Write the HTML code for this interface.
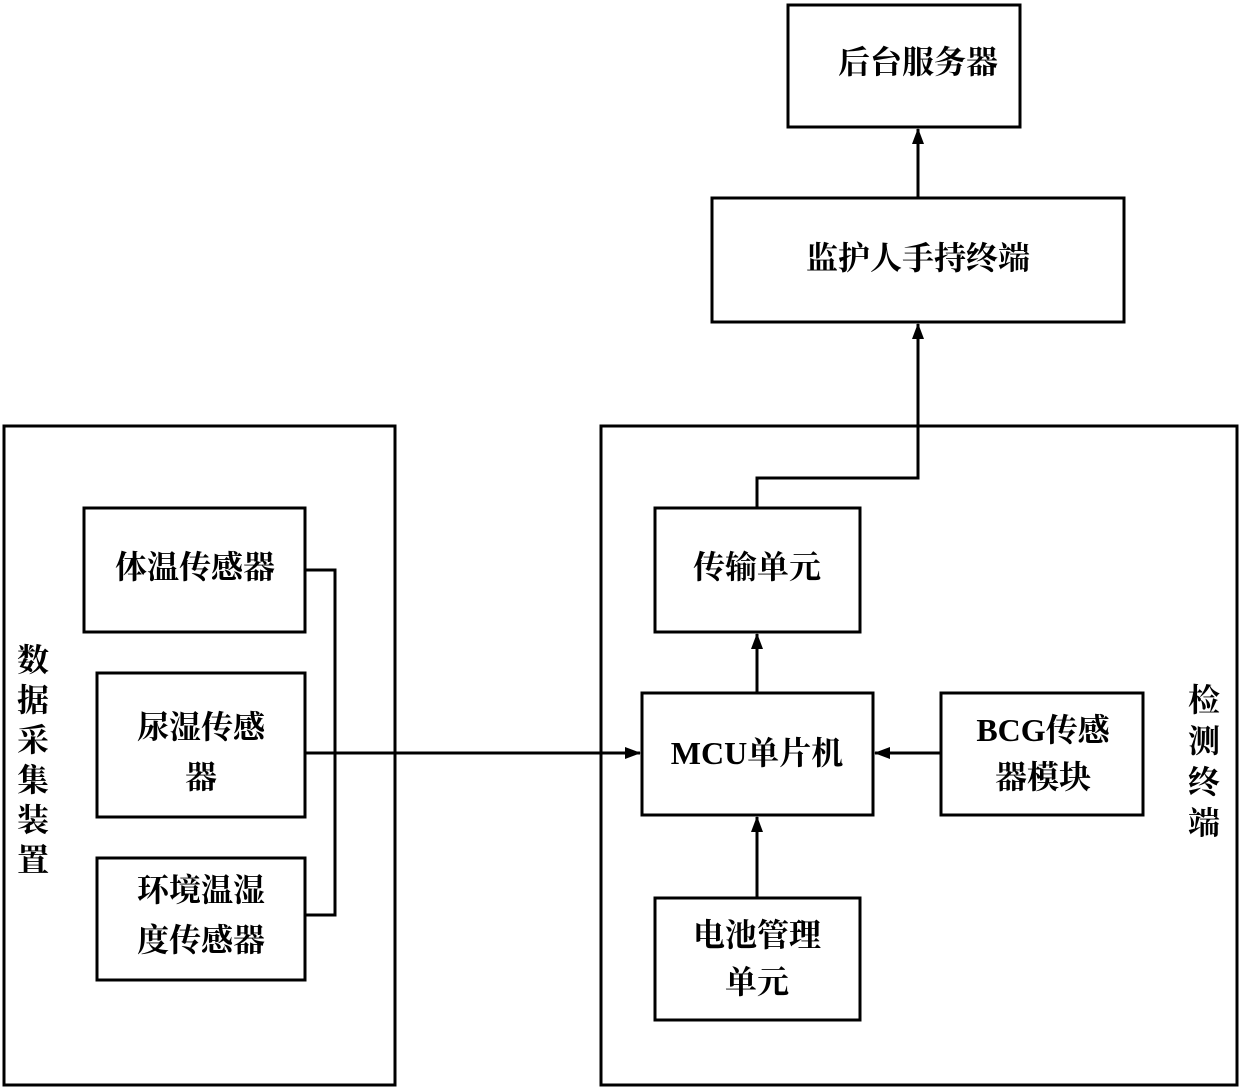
<!DOCTYPE html>
<html><head><meta charset="utf-8"><style>
html,body{margin:0;padding:0;background:#fff;}
svg{display:block;}
text{font-family:"Liberation Serif","Noto Serif CJK SC",serif;font-weight:bold;font-size:32px;fill:#000;text-anchor:middle;dominant-baseline:central;}
</style></head><body>
<svg width="1240" height="1089" viewBox="0 0 1240 1089" xmlns="http://www.w3.org/2000/svg">
<defs><marker id="a" markerWidth="10" markerHeight="10" refX="9" refY="5" orient="auto" markerUnits="userSpaceOnUse"><path d="M0,0 L10,5 L0,10 z" fill="#000"/></marker>
<marker id="b" markerWidth="16" markerHeight="16" refX="15" refY="8" orient="auto" markerUnits="userSpaceOnUse"><path d="M0,2 L16,8 L0,14 z" fill="#000"/></marker></defs>
<g fill="none" stroke="#000" stroke-width="3">
<rect x="788" y="5" width="232" height="122"/>
<rect x="712" y="198" width="412" height="124"/>
<rect x="4" y="426" width="391" height="659"/>
<rect x="601" y="426" width="636" height="659"/>
<rect x="84" y="508" width="221" height="124"/>
<rect x="97" y="673" width="208" height="144"/>
<rect x="97" y="858" width="208" height="122"/>
<rect x="655" y="508" width="205" height="124"/>
<rect x="642" y="693" width="231" height="122"/>
<rect x="941" y="693" width="202" height="122"/>
<rect x="655" y="898" width="205" height="122"/>
<polyline points="305,570 335,570 335,915 305,915"/>
<line x1="305" y1="753" x2="640" y2="753" marker-end="url(#b)"/>
<line x1="941" y1="753" x2="875" y2="753" marker-end="url(#b)"/>
<line x1="757" y1="898" x2="757" y2="817" marker-end="url(#b)"/>
<line x1="757" y1="693" x2="757" y2="634" marker-end="url(#b)"/>
<polyline points="757,508 757,478 918,478 918,324" marker-end="url(#b)"/>
<line x1="918" y1="198" x2="918" y2="129" marker-end="url(#b)"/>
</g>
<text x="918" y="62">后台服务器</text>
<text x="918" y="258">监护人手持终端</text>
<text x="195" y="567">体温传感器</text>
<text x="201" y="727">尿湿传感</text>
<text x="201" y="777">器</text>
<text x="201" y="890">环境温湿</text>
<text x="201" y="940">度传感器</text>
<text x="757" y="567">传输单元</text>
<text x="757" y="753">MCU单片机</text>
<text x="1043" y="730">BCG传感</text>
<text x="1043" y="777">器模块</text>
<text x="757" y="935">电池管理</text>
<text x="757" y="982">单元</text>
<text x="33" y="660">数</text><text x="33" y="700">据</text><text x="33" y="740">采</text><text x="33" y="780">集</text><text x="33" y="820">装</text><text x="33" y="860">置</text>
<text x="1204" y="700">检</text><text x="1204" y="741">测</text><text x="1204" y="782">终</text><text x="1204" y="823">端</text>
</svg>
</body></html>
